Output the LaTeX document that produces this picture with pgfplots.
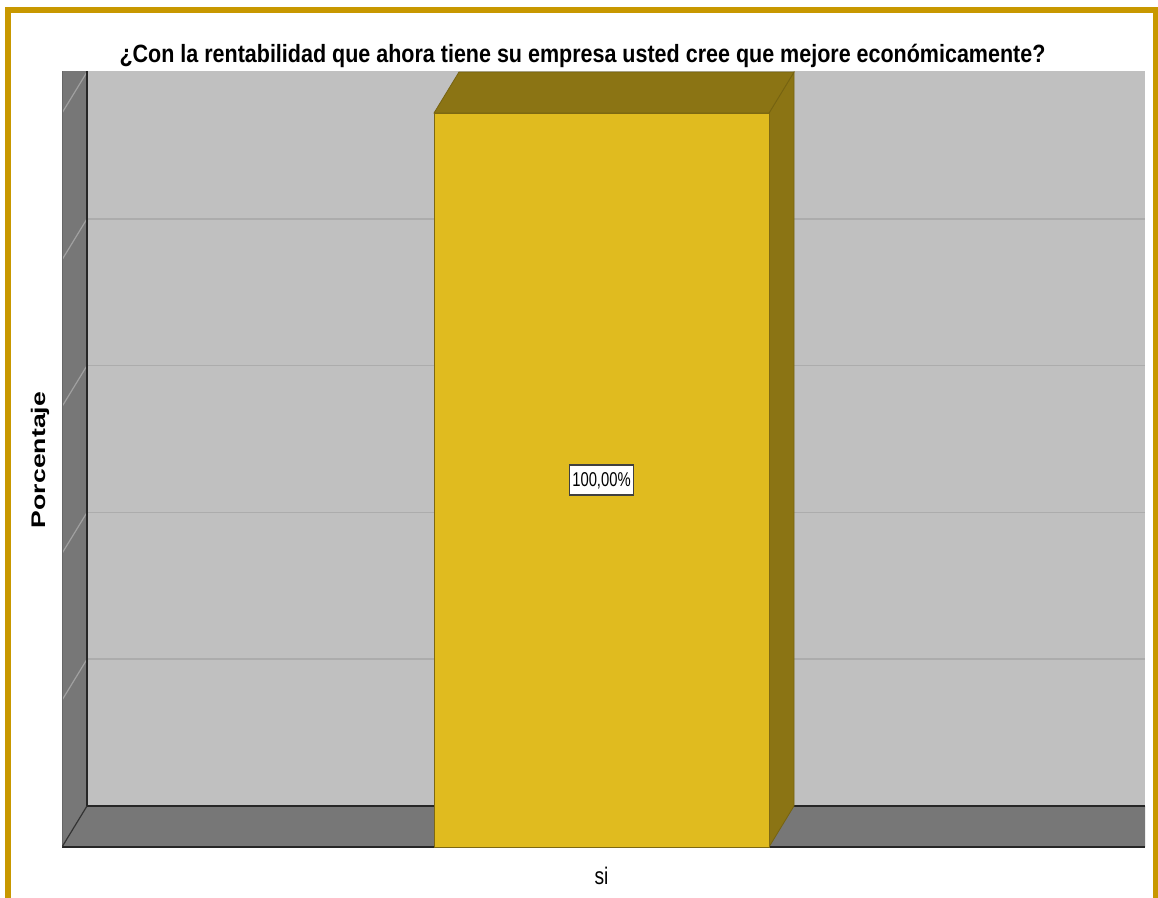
\documentclass[border=0pt]{standalone}
\usepackage{fontspec}
\setmainfont{Liberation Sans}
\usepackage{graphicx}
\usepackage{pgfplots}
\pgfplotsset{compat=1.18}
\definecolor{goldborder}{RGB}{200,152,0}
\definecolor{backwall}{RGB}{192,192,192}
\definecolor{sidewall}{RGB}{119,119,119}
\definecolor{gridgray}{RGB}{172,172,172}
\definecolor{wallgrid}{RGB}{160,160,160}
\definecolor{barfront}{RGB}{224,187,31}
\definecolor{bardark}{RGB}{139,116,20}
\begin{document}
\begin{tikzpicture}[x=1pt,y=1pt]
\useasboundingbox (0,0) rectangle (1158,897);
\clip (0,0) rectangle (1158,897);
\fill[white] (0,0) rectangle (1158,897);
\begin{axis}[
  at={(62pt,50pt)}, anchor=south west,
  scale only axis, width=1083pt, height=775pt,
  xmin=62, xmax=1145, ymin=0, ymax=105.59,
  axis line style={draw=none},
  tick style={draw=none}, major tick length=0pt,
  xtick={601.5}, xticklabels={\scalebox{0.8}[1]{si}},
  xticklabel style={font=\fontsize{24}{28}\selectfont, anchor=base, yshift=-37pt, inner sep=0pt},
  ytick=\empty,
  clip=true,
]
% back wall
\addplot[fill=backwall, draw=none] coordinates {(87,5.586) (1145,5.586) (1145,106) (87,106)} -- cycle;
% gridlines on back wall
\addplot[gridgray, line width=1.5pt] coordinates {(87,25.586) (1145,25.586)};
\addplot[gridgray, line width=1.5pt] coordinates {(87,45.586) (1145,45.586)};
\addplot[gridgray, line width=1.5pt] coordinates {(87,65.586) (1145,65.586)};
\addplot[gridgray, line width=1.5pt] coordinates {(87,85.586) (1145,85.586)};
% left wall
\addplot[fill=sidewall, draw=none] coordinates {(62,0) (87,5.586) (87,106) (62,106)} -- cycle;
\addplot[wallgrid, line width=1.2pt] coordinates {(62,20) (87,25.586)};
\addplot[wallgrid, line width=1.2pt] coordinates {(62,40) (87,45.586)};
\addplot[wallgrid, line width=1.2pt] coordinates {(62,60) (87,65.586)};
\addplot[wallgrid, line width=1.2pt] coordinates {(62,80) (87,85.586)};
\addplot[wallgrid, line width=1.2pt] coordinates {(62,100) (87,105.586)};
% floor
\addplot[fill=sidewall, draw=none] coordinates {(62,0) (87,5.586) (1145,5.586) (1145,0)} -- cycle;
% edges
\addplot[black!85, line width=2.2pt] coordinates {(87,106) (87,5.586) (1145,5.586)};
\addplot[black!60, line width=1.6pt] coordinates {(62,106) (62,0)};
\addplot[black!85, line width=2.2pt] coordinates {(62,0) (1145,0)};
\addplot[black!80, line width=1.2pt] coordinates {(62,0) (87,5.586)};
% bar: side and top faces
\addplot[fill=bardark, draw=bardark!85!black, line width=0.8pt] coordinates {(769,0) (794,5.586) (794,105.586) (769,100)} -- cycle;
\addplot[fill=bardark, draw=bardark!85!black, line width=0.8pt] coordinates {(434,100) (459,105.586) (794,105.586) (769,100)} -- cycle;
% bar: front face
\addplot[ybar, bar width=335, bar shift=0pt, fill=barfront, draw=bardark!90!black, line width=0.8pt] coordinates {(601.5,100)};
\node[draw=black!75, line width=1.2pt, fill=white, inner xsep=3pt, inner ysep=6pt, text height=15pt, text depth=3pt,
  font=\fontsize{20}{24}\selectfont] at (axis cs:601.5,50) {\scalebox{0.74}[1]{100,00\%}};
\end{axis}
% title
\node[anchor=base, font=\bfseries\fontsize{25}{30}\selectfont] at (582.5,834)
  {\scalebox{0.86}[1]{¿Con la rentabilidad que ahora tiene su empresa usted cree que mejore económicamente?}};
% y label
\node[rotate=90, anchor=base, font=\bfseries\fontsize{26.6}{30}\selectfont] at (45,437)
  {\scalebox{1}[0.74]{Porcentaje}};
% outer border
\draw[goldborder, line width=6pt] (8,-20) rectangle (1155.5,887);
\end{tikzpicture}
\end{document}
